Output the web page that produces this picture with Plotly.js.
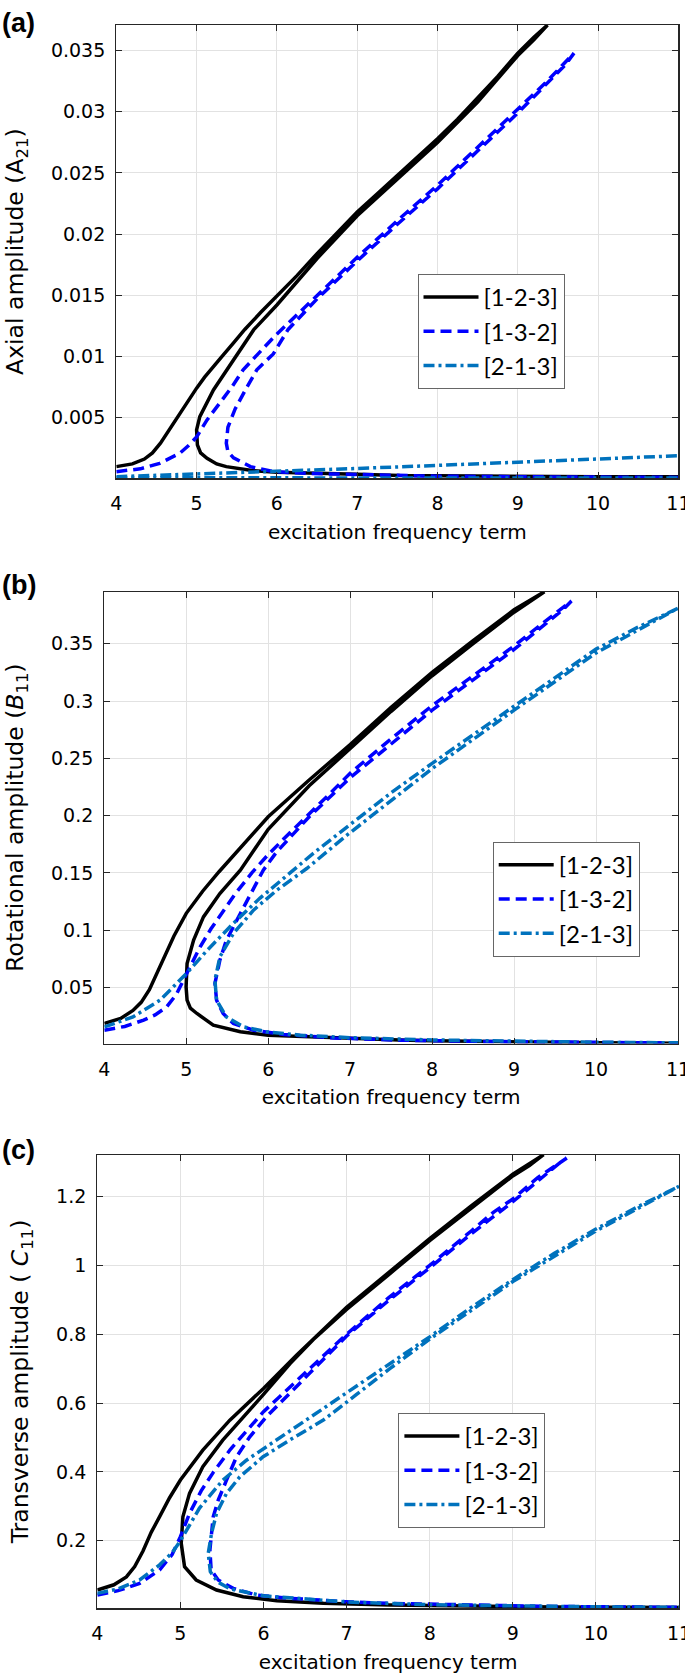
<!DOCTYPE html>
<html><head><meta charset="utf-8">
<script src="https://cdn.plot.ly/plotly-3.0.1.min.js"></script>
<style>html,body{margin:0;padding:0;background:#fff;overflow:hidden;} #chart{width:685px;height:1674px;}</style>
</head><body><div id="chart"></div>
<script>
// ---------- data ----------
const seriesNames = ['[1-2-3]', '[1-3-2]', '[2-1-3]'];
const xTickVals = [4, 5, 6, 7, 8, 9, 10, 11];
const xTickText = ['4', '5', '6', '7', '8', '9', '10', '11'];

// (a) Axial amplitude A21
const a123_x = [4.0,4.2,4.35,4.45,4.55,4.65,4.75,4.87,5.0,5.1,5.21,5.33,5.46,5.6,5.8,6.0,6.25,6.5,6.75,7.0,7.25,7.5,7.75,8.0,8.25,8.5,8.75,9.0,9.2,9.37, 9.2,9.0,8.5,8.0,7.5,7.0,6.5,6.0,5.71,5.46,5.21,5.04,5.0,5.01,5.05,5.13,5.25,5.37,5.55,5.71,6.0,6.5,7.0,7.53,8.0,9.0,10.0,11.0];
const a123_y = [0.00098,0.0012,0.0016,0.0021,0.0029,0.0039,0.005,0.0062,0.0074,0.0083,0.0092,0.0101,0.0111,0.0122,0.0136,0.0149,0.0166,0.0184,0.0201,0.0218,0.0233,0.0248,0.0263,0.0278,0.0294,0.0311,0.0329,0.0348,0.0361,0.0371, 0.0359,0.0346,0.0308,0.0275,0.0245,0.0215,0.0180,0.0142,0.01216,0.0097,0.00725,0.00507,0.00398,0.00275,0.0021,0.00166,0.0012,0.00098,0.0008,0.00065,0.00052,0.0004,0.00035,0.00025,0.00022,0.00018,0.00016,0.00015];
const a132_x = [4.0,4.3,4.54,4.79,4.9,5.0,5.13,5.27,5.44,5.58,5.75,5.98,6.25,6.5,6.75,7.0,7.5,8.0,8.5,9.0,9.35,9.7, 9.6,9.0,8.5,8.0,7.5,7.0,6.5,6.14,5.955,5.75,5.62,5.48,5.39,5.37,5.39,5.46,5.67,5.955,6.4,7.0,7.45,8.0,9.0,10.0,11.0];
const a132_y = [0.00057,0.0008,0.00125,0.00207,0.0027,0.0034,0.0048,0.006,0.0075,0.0089,0.0101,0.0117,0.0134,0.015,0.0166,0.0181,0.0211,0.024,0.0271,0.0302,0.0324,0.0348, 0.0339,0.0299,0.0268,0.0237,0.0208,0.0178,0.0147,0.0122,0.0102,0.0089,0.0074,0.0057,0.0042,0.0029,0.0022,0.0017,0.00098,0.00057,0.00042,0.00033,0.00024,0.0002,0.00015,0.00012,0.0001];
const a213_x = [4,5,6,7,8,9,10,11,null,4,6,8,11];
const a213_y = [0.00016,0.00037,0.00059,0.00083,0.00108,0.00132,0.0016,0.00187,null,0.00007,0.00006,0.00005,0.00004];
const aTickVals = [0.005,0.01,0.015,0.02,0.025,0.03,0.035];
const aTickText = ['0.005','0.01','0.015','0.02','0.025','0.03','0.035'];

// (b) Rotational amplitude B11
const b123_x = [4.0,4.2,4.35,4.45,4.55,4.65,4.75,4.85,5.0,5.2,5.4,5.6,5.8,6.0,6.5,7.0,7.5,8.0,8.5,9.0,9.37, 9.0,8.5,8.0,7.5,7.0,6.5,6.0,5.66,5.41,5.21,5.09,5.01,4.998,5.01,5.05,5.13,5.33,5.66,6.0,7.0,7.6,8.0,9.0,10.0,11.0];
const b123_y = [0.0186,0.023,0.030,0.037,0.048,0.064,0.080,0.095,0.1147,0.134,0.151,0.167,0.183,0.199,0.231,0.262,0.2945,0.325,0.3527,0.3796,0.3954, 0.3775,0.350,0.322,0.291,0.259,0.226,0.188,0.1524,0.132,0.1116,0.0913,0.071,0.0505,0.0389,0.032,0.0273,0.0171,0.0113,0.0084,0.0055,0.0041,0.0035,0.0025,0.0018,0.0013];
const b132_x = [4.0,4.25,4.48,4.62,4.76,4.88,4.965,5.07,5.17,5.3,5.45,5.6,5.8,6.0,6.25,6.5,6.75,7.0,7.5,8.0,8.5,9.0,9.35,9.7, 9.6,9.0,8.0,7.0,6.5,6.1,5.94,5.74,5.66,5.49,5.41,5.35,5.37,5.45,5.575,5.82,6.19,6.8,7.61,8.5,9.5,11.0];
const b132_y = [0.0127,0.016,0.0215,0.026,0.033,0.044,0.0564,0.071,0.0855,0.101,0.117,0.132,0.150,0.166,0.184,0.201,0.219,0.237,0.267,0.296,0.322,0.348,0.368,0.3873, 0.380,0.345,0.292,0.233,0.199,0.168,0.1524,0.1263,0.1146,0.0913,0.0738,0.0535,0.0389,0.0273,0.0186,0.0127,0.009,0.006,0.004,0.003,0.0022,0.0015];
const b213_x = [4.0,4.35,4.68,5.0,5.25,5.575,5.9,6.23,6.55,6.96,7.5,8.0,8.5,9.0,9.5,10.0,10.5,11.0, 10.0,9.0,8.0,7.61,6.96,6.47,6.105,5.82,5.575,5.41,5.35,5.37,5.49,5.7,5.98,6.39,7.0,8.0,9.0,10.0,11.0];
const b213_y = [0.0156,0.0243,0.0389,0.062,0.082,0.106,0.128,0.148,0.167,0.19,0.22,0.2456,0.2705,0.2955,0.3205,0.3453,0.364,0.381, 0.342,0.292,0.241,0.2193,0.1829,0.1538,0.1349,0.1175,0.0971,0.0767,0.0564,0.0389,0.0243,0.0156,0.0113,0.0084,0.0062,0.0042,0.003,0.0022,0.0017];
const bTickVals = [0.05,0.1,0.15,0.2,0.25,0.3,0.35];
const bTickText = ['0.05','0.1','0.15','0.2','0.25','0.3','0.35'];

// (c) Transverse amplitude C11
const c123_x = [4.0,4.2,4.35,4.45,4.55,4.65,4.75,4.87,5.0,5.27,5.595,6.0,6.4,6.72,7.0,7.52,8.0,8.5,9.0,9.37, 9.2,9.0,8.5,8.0,7.5,7.0,6.6,6.32,6.0,5.8,5.51,5.27,5.11,5.03,5.01,5.05,5.19,5.435,5.755,6.16,6.72,7.52,8.5,9.5,11.0];
const c123_y = [0.0568,0.072,0.095,0.125,0.17,0.225,0.27,0.325,0.3763,0.4634,0.5505,0.6425,0.74,0.815,0.878,0.982,1.078,1.173,1.265,1.3217, 1.29,1.26,1.167,1.072,0.972,0.872,0.785,0.715,0.625,0.572,0.4924,0.4149,0.3376,0.2697,0.1924,0.1245,0.0859,0.0568,0.0374,0.0258,0.0182,0.0133,0.01,0.0075,0.006];
const c132_x = [4.0,4.25,4.51,4.75,4.9,5.0,5.11,5.25,5.4,5.6,5.8,6.0,6.2,6.44,6.76,7.0,7.5,8.0,8.5,8.77,9.0,9.3,9.65, 9.55,9.0,8.5,8.0,7.5,7.0,6.515,6.275,6.035,5.835,5.675,5.555,5.455,5.395,5.355,5.37,5.455,5.635,5.915,6.32,6.99,7.52,8.5,9.5,11.0];
const c132_y = [0.042,0.055,0.0763,0.115,0.16,0.2116,0.2795,0.345,0.40,0.465,0.52,0.575,0.62,0.675,0.745,0.80,0.905,1.0,1.1,1.155,1.193,1.255,1.312, 1.295,1.185,1.092,0.993,0.897,0.795,0.676,0.618,0.56,0.502,0.444,0.376,0.318,0.2697,0.173,0.115,0.086,0.0617,0.042,0.0327,0.023,0.018,0.013,0.009,0.0065];
const c213_x = [4.0,4.25,4.51,4.75,4.9,5.0,5.23,5.51,5.795,6.155,6.555,6.955,7.52,8.0,8.5,9.0,9.5,10.0,10.5,11.0, 10.0,9.0,8.0,7.52,7.12,6.72,6.315,5.995,5.715,5.555,5.435,5.375,5.335,5.36,5.45,5.6,6.0,7.0,8.0,9.0,10.0,11.0];
const c213_y = [0.047,0.06,0.086,0.13,0.165,0.2,0.295,0.376,0.434,0.4924,0.56,0.625,0.715,0.7924,0.878,0.9587,1.035,1.1056,1.17,1.23, 1.10,0.953,0.786,0.70,0.625,0.5505,0.4924,0.444,0.3858,0.3376,0.28,0.2215,0.1634,0.11,0.08,0.06,0.04,0.022,0.014,0.01,0.008,0.0065];
const cTickVals = [0.2,0.4,0.6,0.8,1,1.2];
const cTickText = ['0.2','0.4','0.6','0.8','1','1.2'];

// ---------- styles ----------
const W = 685, H = 1674;
const styles = [
  {color: '#000000', dash: 'solid', width: 3.5},
  {color: '#0000FF', dash: '11px,6px', width: 3.5},
  {color: '#0072BD', dash: '11px,4px,3px,4px', width: 3.5}
];
function mk(x, y, k, ax, lg) {
  return {x: x, y: y, type: 'scatter', mode: 'lines', name: seriesNames[k],
    xaxis: 'x' + ax, yaxis: 'y' + ax, legend: lg, legendgroup: lg + k,
    line: {color: styles[k].color, dash: styles[k].dash, width: styles[k].width},
    connectgaps: false, hoverinfo: 'x+y'};
}
const traces = [
  mk(a123_x, a123_y, 0, '', 'legend'), mk(a132_x, a132_y, 1, '', 'legend'), mk(a213_x, a213_y, 2, '', 'legend'),
  mk(b123_x, b123_y, 0, '2', 'legend2'), mk(b132_x, b132_y, 1, '2', 'legend2'), mk(b213_x, b213_y, 2, '2', 'legend2'),
  mk(c123_x, c123_y, 0, '3', 'legend3'), mk(c132_x, c132_y, 1, '3', 'legend3'), mk(c213_x, c213_y, 2, '3', 'legend3')
];

const fontFam = 'DejaVu Sans, Liberation Sans, sans-serif';
const labFam = 'Liberation Sans, Arial, sans-serif';
const axCol = '#262626';
function px2x(p) { return p / W; }
function px2y(p) { return 1 - p / H; }
function xax(l, r, anchor) {
  return {domain: [px2x(l), px2x(r)], anchor: anchor, range: [4, 11], tickvals: xTickVals, ticktext: xTickText,
    ticks: 'inside', ticklen: 6, tickcolor: axCol, showline: true, linecolor: axCol, linewidth: 1.2, mirror: 'ticks',
    showgrid: true, gridcolor: '#e2e2e2', gridwidth: 1, zeroline: false, ticklabelstandoff: 8,
    ticklabeloverflow: 'allow',
    tickfont: {family: fontFam, size: 19, color: '#000'},
    title: {text: 'excitation frequency term', font: {family: fontFam, size: 20, color: '#000'}, standoff: 11}};
}
function yax(t, b, anchor, range, tv, tt, title) {
  return {domain: [px2y(b), px2y(t)], anchor: anchor, range: range, tickvals: tv, ticktext: tt,
    ticks: 'inside', ticklen: 6, tickcolor: axCol, showline: true, linecolor: axCol, linewidth: 1.2, mirror: 'ticks',
    showgrid: true, gridcolor: '#e2e2e2', gridwidth: 1, zeroline: false, ticklabelstandoff: 6,
    ticklabeloverflow: 'allow',
    tickfont: {family: fontFam, size: 19, color: '#000'},
    title: {text: title, font: {family: fontFam, size: 23.5, color: '#000'}, standoff: 20}};
}
function lg(xp, yp) {
  return {x: px2x(xp), y: px2y(yp), xanchor: 'left', yanchor: 'top', bgcolor: '#fff',
    bordercolor: '#666', borderwidth: 1, font: {family: 'Lato, sans-serif', size: 24, color: '#000'},
    itemwidth: 55, tracegroupgap: 4, traceorder: 'normal'};
}
const layout = {
  width: W, height: H, margin: {l: 0, r: 0, t: 0, b: 0}, paper_bgcolor: '#fff', plot_bgcolor: '#fff',
  showlegend: true,
  xaxis: xax(116.3, 678.4, 'y'),
  yaxis: yax(25, 478.3, 'x', [0.000025, 0.0371], aTickVals, aTickText, 'Axial amplitude (A<sub>21</sub>)'),
  xaxis2: xax(104.3, 678, 'y2'),
  yaxis2: yax(591.7, 1043.5, 'x2', [0.0011, 0.3954], bTickVals, bTickText, 'Rotational amplitude (<i>B</i><sub>11</sub>)'),
  xaxis3: xax(97.3, 679, 'y3'),
  yaxis3: yax(1154.7, 1608.3, 'x3', [0.0037, 1.3217], cTickVals, cTickText, 'Transverse amplitude ( <i>C</i><sub>11</sub>)'),
  legend: lg(417.5, 274),
  legend2: lg(492.7, 841.7),
  legend3: lg(398.4, 1413),
  annotations: [
    {text: '<b>(a)</b>', x: 0, y: px2y(23), xref: 'paper', yref: 'paper', xanchor: 'left', yanchor: 'middle', showarrow: false, font: {family: labFam, size: 27, color: '#000'}},
    {text: '<b>(b)</b>', x: 0, y: px2y(585), xref: 'paper', yref: 'paper', xanchor: 'left', yanchor: 'middle', showarrow: false, font: {family: labFam, size: 27, color: '#000'}},
    {text: '<b>(c)</b>', x: 0, y: px2y(1150), xref: 'paper', yref: 'paper', xanchor: 'left', yanchor: 'middle', showarrow: false, font: {family: labFam, size: 27, color: '#000'}}
  ]
};
Plotly.newPlot('chart', traces, layout, {staticPlot: true, displayModeBar: false});
</script></body></html>
